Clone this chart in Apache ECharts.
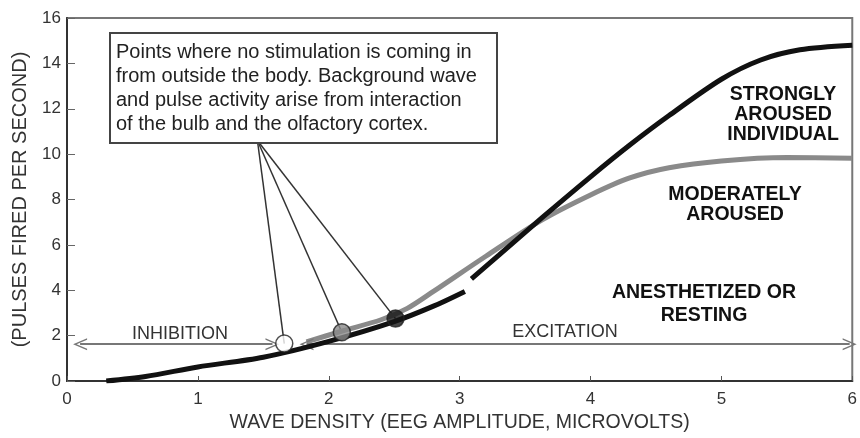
<!DOCTYPE html>
<html>
<head>
<meta charset="utf-8">
<script src="https://cdn.jsdelivr.net/npm/echarts@6/dist/echarts.min.js"></script>
<style>
  html, body { margin: 0; padding: 0; background: #fff; }
  #chart { width: 860px; height: 438px; }
</style>
</head>
<body>
<div id="chart"></div>
<script>
// curve readings (x = wave density, y = pulses per second)
const strongCurve = [
  [0.3, 0], [0.6, 0.2], [1.0, 0.62], [1.5, 1.05], [2.0, 1.75], [2.5, 2.62],
  [2.8, 3.3], [3.04, 3.95], [3.06, null], [3.09, 4.5], [3.3, 5.55], [3.63, 7.2],
  [4.0, 9.0], [4.3, 10.4], [4.6, 11.7], [5.0, 13.3], [5.3, 14.15], [5.6, 14.6], [6.0, 14.8]
]
const moderateCurve = [
  [1.83, 1.72], [2.1, 2.2], [2.4, 2.7], [2.6, 3.2], [2.8, 3.95], [3.2, 5.5], [3.63, 7.1],
  [4.0, 8.2], [4.3, 8.95], [4.6, 9.4], [5.0, 9.7], [5.5, 9.85], [6.0, 9.82]
]
const restLevel = 1.62
const inhibitionRange = [0.1, 1.57]
const excitationRange = [1.83, 5.98]

// points where no stimulation comes in: white, gray, black
const restPoints = [[1.66, 1.65], [2.1, 2.15], [2.51, 2.75]]
const restColors = ['#ffffff', '#8a8a8a', '#151515']
const calloutAnchor = [1.455, 10.6]

const xTicks = [0, 1, 2, 3, 4, 5, 6]
const yTicks = [0, 2, 4, 6, 8, 10, 12, 14, 16]

const FONT = '"Liberation Sans", Arial, sans-serif'
const chevron = 'path://M0,12 L6,0 L12,12 L10.5,12 L6,3 L1.5,12 Z'

const myChart = echarts.init(document.getElementById('chart'))

const leaderSeries = restPoints.map(p => ({
  type: 'line',
  data: [calloutAnchor, p],
  symbol: 'none',
  silent: true,
  lineStyle: { color: '#333', width: 1.5 },
  z: 3
}))

const arrowLine = (range) => ({
  type: 'line',
  data: [],
  silent: true,
  markLine: {
    silent: true,
    symbol: [chevron, chevron],
    symbolSize: [12, 14],
    label: { show: false },
    lineStyle: { color: '#777', width: 2, type: 'solid' },
    data: [[{ coord: [range[0], restLevel] }, { coord: [range[1], restLevel] }]]
  }
})

const option = {
  backgroundColor: '#fff',
  animation: false,
  grid: {
    left: 67, right: 5, top: 18, bottom: 53,
    show: true, borderColor: '#777', borderWidth: 2
  },
  xAxis: {
    type: 'value', min: 0, max: 6, interval: 1,
    name: 'WAVE DENSITY (EEG AMPLITUDE, MICROVOLTS)',
    nameLocation: 'middle', nameGap: 32,
    nameTextStyle: { fontFamily: FONT, fontSize: 19.5, color: '#333' },
    axisLine: { lineStyle: { color: '#333', width: 2 } },
    axisTick: { inside: true, length: 5, lineStyle: { color: '#555' } },
    axisLabel: { fontFamily: FONT, fontSize: 17, color: '#333', margin: 10,
      formatter: v => xTicks.includes(v) ? String(v) : '' },
    splitLine: { show: false }
  },
  yAxis: {
    type: 'value', min: 0, max: 16, interval: 2,
    name: '(PULSES FIRED PER SECOND)',
    nameLocation: 'middle', nameGap: 37,
    nameTextStyle: { fontFamily: FONT, fontSize: 20, color: '#333' },
    axisLine: { show: true, lineStyle: { color: '#333', width: 2 } },
    axisTick: { show: true, inside: true, length: 8, lineStyle: { color: '#666' } },
    axisLabel: { fontFamily: FONT, fontSize: 17, color: '#333', margin: 6,
      formatter: v => yTicks.includes(v) ? String(v) : '' },
    splitLine: { show: false }
  },
  series: [
    arrowLine(inhibitionRange),
    arrowLine(excitationRange),
    {
      type: 'line', data: moderateCurve, smooth: 0.3, symbol: 'none',
      lineStyle: { color: '#8a8a8a', width: 5 }, z: 4
    },
    {
      type: 'line', data: strongCurve, smooth: 0.3, symbol: 'none', connectNulls: false,
      lineStyle: { color: '#111', width: 5 }, z: 5
    },
    ...leaderSeries,
    {
      type: 'scatter',
      data: restPoints.map((p, i) => ({ value: p, itemStyle: { color: restColors[i] } })),
      symbolSize: 17,
      itemStyle: { borderColor: '#222', borderWidth: 1.5 },
      z: 6
    }
  ],
  graphic: [
    {
      type: 'rect', shape: { x: 110, y: 33, width: 387, height: 110 },
      style: { fill: '#fff', stroke: '#444', lineWidth: 2 }, z: 10
    },
    {
      type: 'text', left: 116, top: 40, z: 11,
      style: {
        text: 'Points where no stimulation is coming in\nfrom outside the body. Background wave\nand pulse activity arise from interaction\nof the bulb and the olfactory cortex.',
        font: '20px ' + FONT, fill: '#222', lineHeight: 24
      }
    },
    {
      type: 'text', x: 783, y: 115, z: 11,
      style: { text: 'STRONGLY\nAROUSED\nINDIVIDUAL', font: 'bold 19.5px ' + FONT, fill: '#111',
        lineHeight: 20, align: 'center', verticalAlign: 'middle' }
    },
    {
      type: 'text', x: 735, y: 205, z: 11,
      style: { text: 'MODERATELY\nAROUSED', font: 'bold 19.5px ' + FONT, fill: '#111',
        lineHeight: 20, align: 'center', verticalAlign: 'middle' }
    },
    {
      type: 'text', x: 704, y: 304, z: 11,
      style: { text: 'ANESTHETIZED OR\nRESTING', font: 'bold 19.5px ' + FONT, fill: '#111',
        lineHeight: 23, align: 'center', verticalAlign: 'middle' }
    },
    {
      type: 'text', x: 180, y: 334, z: 11,
      style: { text: 'INHIBITION', font: '18px ' + FONT, fill: '#333',
        align: 'center', verticalAlign: 'middle' }
    },
    {
      type: 'text', x: 565, y: 332, z: 11,
      style: { text: 'EXCITATION', font: '18px ' + FONT, fill: '#333',
        align: 'center', verticalAlign: 'middle' }
    }
  ]
}

myChart.setOption(option)
</script>
</body>
</html>
